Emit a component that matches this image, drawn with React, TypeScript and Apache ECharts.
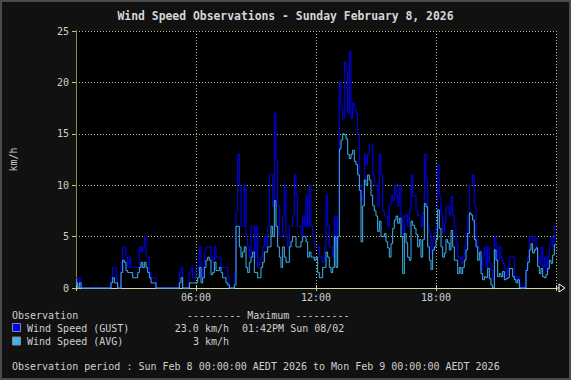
import React, { useEffect, useRef } from 'react';
import * as echarts from 'echarts';

// Observation interval (minutes) and series values, one value per 5-minute step from 00:00
const STEP_MINUTES = 5;

const gust: number[] = [
  // 00h
  1, 0, 1, 0, 0, 0, 0, 0, 0, 0, 0, 0,
  // 01h
  0, 0, 0, 0, 0, 0, 0, 0, 0, 1, 2, 2,
  // 02h
  1, 0, 0, 2.5, 4, 4, 3, 2, 3, 2, 2, 2,
  // 03h
  2, 2, 4, 3.5, 4, 5, 3, 3, 1.5, 1, 1, 1,
  // 04h
  0, 0, 0, 0, 0, 0, 0, 0, 0, 0, 0, 0,
  // 05h
  0, 0, 1.5, 2, 0, 0, 0, 0, 1.5, 2, 1, 1,
  // 06h
  2, 2, 4, 1, 2, 3.5, 4, 4, 4, 3, 2.5, 4,
  // 07h
  3, 3, 3, 2, 2, 2, 2, 1, 0, 0, 0, 1.5,
  // 08h
  7.5, 13, 10, 6, 6, 10, 5, 4, 3, 6, 6, 3,
  // 09h
  6, 2, 2.5, 3, 4, 5, 4, 6, 11, 11, 8, 17,
  // 10h
  12.5, 8, 5, 5, 7, 10, 5, 4, 6, 6, 7, 11,
  // 11h
  9, 6, 6, 5, 7, 6, 9, 6, 10, 6, 5, 4,
  // 12h
  4, 4, 3, 3, 2.5, 4, 9, 6, 4, 4, 3, 7,
  // 13h
  4, 7, 20, 17.5, 16.5, 22, 21, 17, 23, 16.5, 18, 17.5,
  // 14h
  17, 15, 10, 8.5, 9, 13, 12, 13, 14, 14, 11, 10,
  // 15h
  10, 8, 13, 11, 7.5, 7, 7, 6, 8, 9, 8.5, 10,
  // 16h
  9, 8, 10, 7, 5.2, 7, 7.1, 6, 7.6, 11, 8.9, 9,
  // 17h
  7.6, 7.1, 7, 6, 7.3, 13, 10.5, 6, 5.3, 3.4, 4.7, 5.3,
  // 18h
  6, 12, 8.9, 7.1, 5.3, 6.3, 7.9, 7.9, 7.1, 8.9, 7.1, 6,
  // 19h
  4.4, 3, 3, 2.4, 3, 4, 5.3, 7, 10, 10, 11, 8,
  // 20h
  4.8, 4, 3.7, 1.7, 3, 4, 2, 4, 2.4, 1.7, 0.8, 5,
  // 21h
  4, 2.7, 4, 3, 2.4, 1.9, 1.1, 2, 3, 3.1, 3, 1.1,
  // 22h
  0.8, 1.1, 0.5, 0, 0, 0.5, 1.9, 3, 5, 5, 4.5, 5,
  // 23h
  4, 3, 2.4, 4, 2, 3, 1.6, 3, 4.2, 5, 4, 6,
];

const avg: number[] = [
  // 00h
  0.5, 0, 0.5, 0, 0, 0, 0, 0, 0, 0, 0, 0,
  // 01h
  0, 0, 0, 0, 0, 0, 0, 0, 0, 0.5, 1, 0.5,
  // 02h
  0.5, 0, 0, 1.5, 2.7, 2.5, 1.7, 1.5, 1.5, 1.5, 1, 1,
  // 03h
  1, 1.5, 2, 2.5, 2, 2.5, 2, 1.5, 1, 0.5, 0.5, 0.5,
  // 04h
  0, 0, 0, 0, 0, 0, 0, 0, 0, 0, 0, 0,
  // 05h
  0, 0, 0.5, 1, 0, 0, 0, 0, 0.5, 0.5, 0.5, 0.5,
  // 06h
  0.5, 1, 2, 0.5, 1, 2, 2.7, 3, 2.7, 1.3, 1.5, 2.5,
  // 07h
  1.7, 1.7, 2, 1.5, 1, 1, 0.5, 0.3, 0, 0, 0, 0.3,
  // 08h
  6, 6, 4, 3, 3.5, 4, 2, 1.5, 2.5, 3, 3.5, 1.5,
  // 09h
  1.5, 1, 1, 2, 2.5, 3.5, 3.5, 4, 4, 6, 5, 8.5,
  // 10h
  6, 4, 3, 2, 4, 3, 2.5, 2.5, 4, 4.5, 5, 5,
  // 11h
  4, 4, 4, 4.5, 5, 5, 4.5, 3, 3.5, 3, 3, 2.7,
  // 12h
  3, 1.5, 1, 1, 2, 2, 3.5, 3, 2, 1.5, 2, 5,
  // 13h
  2, 5, 13.5, 14.4, 15, 14.9, 14.5, 13, 12.6, 13, 13.4, 12.3,
  // 14h
  12, 11, 9.5, 4.5, 8, 10.5, 10, 11, 10.5, 9, 8, 7.5,
  // 15h
  7, 5.5, 6.5, 5, 5, 5.3, 4.5, 3.9, 3, 4.3, 5.8, 6.6,
  // 16h
  7, 6.3, 6.8, 5, 1.4, 5.3, 4.4, 3, 2.7, 6.5, 6.1, 5.8,
  // 17h
  5.2, 4, 4.7, 3, 4.7, 8.2, 7.9, 4, 2.7, 1.8, 3.7, 4,
  // 18h
  4.7, 7.6, 5.8, 4, 3, 3.4, 4.7, 4.4, 3.7, 5.6, 4, 2.7,
  // 19h
  2.7, 1.4, 2, 1.4, 2, 2.7, 3.7, 5.3, 7.3, 7.1, 6.6, 4.7,
  // 20h
  4, 2.7, 3.5, 1.4, 0.8, 1.1, 1, 1.9, 0.9, 0.3, 0, 3.7,
  // 21h
  2.7, 1.1, 1.4, 1.1, 1.6, 0.8, 0.9, 1, 1.9, 1.9, 1.1, 0.8,
  // 22h
  0.5, 0.8, 0, 0, 0, 0, 1.7, 2.5, 3.7, 4.3, 3.4, 3.7,
  // 23h
  3.9, 2.1, 1.4, 1.9, 1.1, 1, 1.3, 1.9, 2.7, 2.4, 3.2, 4.2,
];

const seriesNames = ['Wind Speed (GUST)', 'Wind Speed (AVG)'];
const seriesColors = ['#0000ff', '#3fb2f2'];
const maxValues = ['23.0 km/h', '3 km/h'];
const maxTimes = ['01:42PM Sun 08/02', ''];
const titleText = 'Wind Speed Observations - Sunday February 8, 2026';
const periodText = 'Observation period : Sun Feb 8 00:00:00 AEDT 2026 to Mon Feb 9 00:00:00 AEDT 2026';
const yUnit = 'km/h';
const yMax = 25;
const yInterval = 5;
const xHours = 24;
const xInterval = 6;

const MONO = "'DejaVu Sans Mono', monospace";
const TXT = '#cfcfcf';
const GRID = '#a6c98a';

function toPairs(arr: number[]): number[][] {
  const pts = arr.map((v, i) => [(i * STEP_MINUTES) / 60, v]);
  pts.push([xHours, arr[arr.length - 1]]);
  return pts;
}

function hourLabel(v: number): string {
  if (v <= 0 || v >= xHours) return '';
  return (v < 10 ? '0' : '') + v + ':00';
}

export default function App() {
  const ref = useRef<HTMLDivElement>(null);

  useEffect(() => {
    document.body.style.margin = '0';
    const chart = echarts.init(ref.current!, null, { renderer: 'svg' });

    const legendGraphics: any[] = [
      { type: 'text', style: { text: 'Observation', x: 12, y: 315, fill: TXT, font: `10px ${MONO}`, verticalAlign: 'middle' } },
      { type: 'text', style: { text: '--------- Maximum ---------', x: 187, y: 315, fill: TXT, font: `10px ${MONO}`, verticalAlign: 'middle' } },
      { type: 'text', style: { text: periodText, x: 12, y: 366, fill: TXT, font: `10px ${MONO}`, verticalAlign: 'middle' } },
    ];
    seriesNames.forEach((name, i) => {
      const y = 328 + i * 13.5;
      legendGraphics.push(
        { type: 'rect', shape: { x: 12.5, y: y - 4.5, width: 8, height: 8 }, style: { fill: seriesColors[i], stroke: '#8a8a8a', lineWidth: 1 } },
        { type: 'text', style: { text: name, x: 27, y, fill: TXT, font: `10px ${MONO}`, verticalAlign: 'middle' } },
        { type: 'text', style: { text: maxValues[i], x: 229, y, fill: TXT, font: `10px ${MONO}`, align: 'right', verticalAlign: 'middle' } },
        { type: 'text', style: { text: maxTimes[i], x: 242, y, fill: TXT, font: `10px ${MONO}`, verticalAlign: 'middle' } },
      );
    });
    const frame = { type: 'rect', shape: { x: 1, y: 1, width: 569, height: 378 }, style: { fill: 'none', stroke: '#4a4a4a', lineWidth: 2 }, silent: true };

    const option: any = {
      animation: false,
      backgroundColor: '#111111',
      title: {
        text: titleText,
        left: 'center',
        top: 5,
        textStyle: { color: '#d6d6d6', fontFamily: MONO, fontSize: 11.4, fontWeight: 'bold', lineHeight: 12 },
      },
      grid: {
        left: 75, top: 31, right: 15, bottom: 92,
        show: true, backgroundColor: '#000000', borderWidth: 0,
      },
      xAxis: [
        {
          type: 'value', min: 0, max: xHours, interval: xInterval,
          axisLine: { show: true, lineStyle: { color: '#c3dca8', width: 1 } },
          axisTick: { show: true, length: 3, lineStyle: { color: '#c3dca8' } },
          axisLabel: { color: TXT, fontFamily: MONO, fontSize: 10, margin: 4, formatter: hourLabel, showMinLabel: true, showMaxLabel: true },
          splitLine: { show: true, lineStyle: { color: GRID, type: [1, 2], width: 1 } },
        },
        {
          type: 'value', position: 'top', min: 0, max: xHours, interval: xInterval,
          axisLine: { show: false },
          axisTick: { show: true, length: 3, lineStyle: { color: GRID } },
          axisLabel: { show: false },
          splitLine: { show: false },
        },
      ],
      yAxis: [
        {
          type: 'value', min: 0, max: yMax, interval: yInterval,
          name: yUnit, nameLocation: 'middle', nameGap: 58, nameRotate: 90,
          nameTextStyle: { color: TXT, fontFamily: MONO, fontSize: 10 },
          axisLine: { show: true, lineStyle: { color: '#b8cc8a', width: 1 } },
          axisTick: { show: true, length: 4, lineStyle: { color: '#b8cc8a' } },
          axisLabel: { color: TXT, fontFamily: MONO, fontSize: 10, margin: 7 },
          splitLine: { show: true, lineStyle: { color: GRID, type: [1, 2], width: 1 } },
        },
        {
          type: 'value', position: 'right', min: 0, max: yMax, interval: yInterval,
          axisLine: { show: true, lineStyle: { color: '#8e8e3e', width: 1 } },
          axisTick: { show: false },
          axisLabel: { show: false },
          splitLine: { show: false },
        },
      ],
      series: [
        {
          name: seriesNames[0], type: 'line', step: 'end', showSymbol: false, symbol: 'none',
          data: toPairs(gust), xAxisIndex: 0, yAxisIndex: 0,
          lineStyle: { color: seriesColors[0], width: 1 }, itemStyle: { color: seriesColors[0] }, z: 3,
        },
        {
          name: seriesNames[1], type: 'line', step: 'end', showSymbol: false, symbol: 'none',
          data: toPairs(avg), xAxisIndex: 0, yAxisIndex: 0,
          lineStyle: { color: seriesColors[1], width: 1 }, itemStyle: { color: seriesColors[1] }, z: 4,
        },
      ],
      graphic: [frame, ...legendGraphics],
    };
    chart.setOption(option);

    const end = chart.convertToPixel({ xAxisIndex: 0, yAxisIndex: 0 }, [xHours, 0]) as number[];
    if (end && isFinite(end[0])) {
      const ex = end[0];
      const ey = end[1];
      chart.setOption({
        graphic: [
          frame,
          ...legendGraphics,
          { type: 'line', shape: { x1: ex, y1: ey, x2: ex + 3, y2: ey }, style: { stroke: '#ffffff', lineWidth: 1 }, z: 100 },
          { type: 'polygon', shape: { points: [[ex + 3, ey - 4], [ex + 3, ey + 4], [ex + 9, ey]] }, style: { fill: '#111111', stroke: '#ffffff', lineWidth: 1 }, z: 100 },
        ],
      }, { replaceMerge: ['graphic'] });
    }

    return () => chart.dispose();
  }, []);

  return <div ref={ref} style={{ width: 571, height: 380, position: 'fixed', left: 0, top: 0 }} />;
}
